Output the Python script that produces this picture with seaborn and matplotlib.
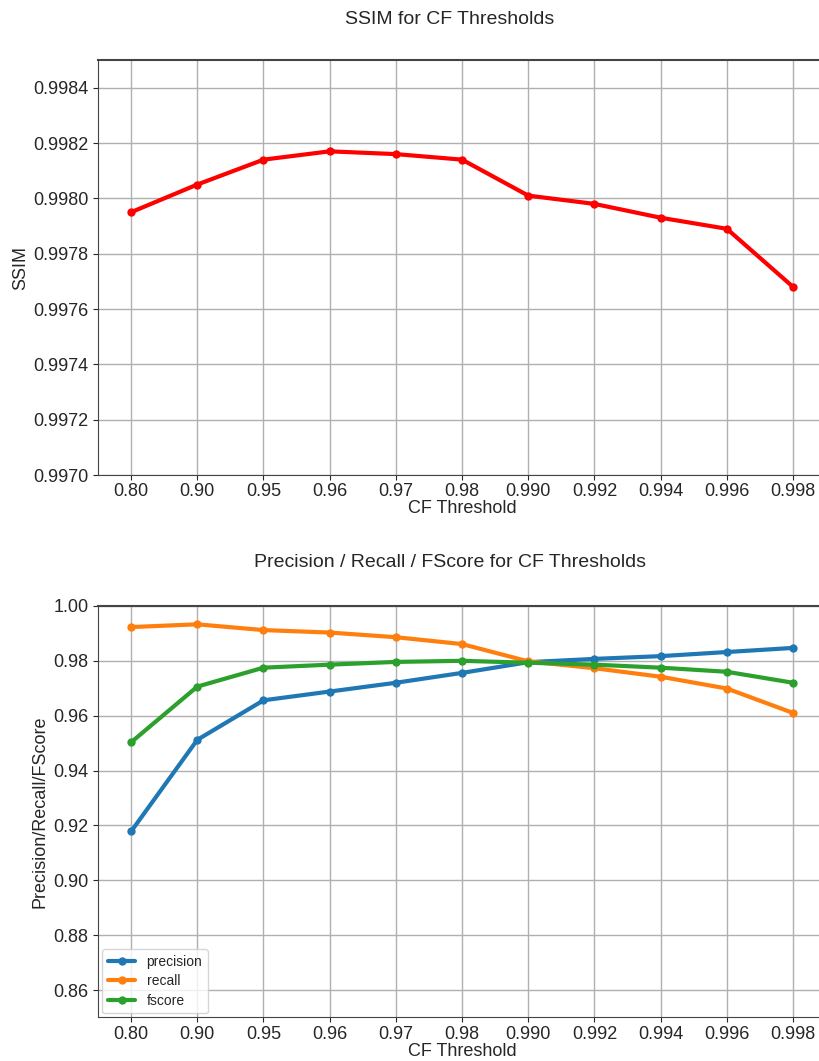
"""
SSIM and Precision / Recall / FScore for CF thresholds.
"""

import matplotlib

matplotlib.use("Agg")

import matplotlib.pyplot as plt
import pandas as pd
import seaborn as sns


THRESHOLDS = ["0.80", "0.90", "0.95", "0.96", "0.97", "0.98",
              "0.990", "0.992", "0.994", "0.996", "0.998"]

SSIM = [0.99795, 0.99805, 0.99814, 0.99817, 0.99816, 0.99814,
        0.99801, 0.99798, 0.99793, 0.99789, 0.99768]

PRECISION = [0.9178, 0.9512, 0.9656, 0.9688, 0.9720, 0.9756,
             0.9795, 0.9807, 0.9817, 0.9832, 0.9847]
RECALL = [0.9923, 0.9933, 0.9912, 0.9903, 0.9886, 0.9861,
          0.9798, 0.9773, 0.9742, 0.9699, 0.9610]
FSCORE = [0.9503, 0.9706, 0.9775, 0.9786, 0.9796, 0.9800,
          0.9793, 0.9786, 0.9775, 0.9760, 0.9720]


def style_axes(ax, title, ylabel, pad):
    ax.set_title(title, fontsize=14, pad=pad, x=0.4835)
    ax.set_xlabel("CF Threshold", fontsize=13, labelpad=0)
    ax.set_ylabel(ylabel, fontsize=13, labelpad=3)
    ax.set_xlim(-0.5, len(THRESHOLDS) - 0.5)
    ax.grid(True, color="#b0b0b0", linewidth=1)
    ax.tick_params(labelsize=13)
    ax.tick_params(axis="x", pad=2.5)
    for side in ["left", "bottom", "top"]:
        ax.spines[side].set_visible(True)
        ax.spines[side].set_color("#444444")
    ax.spines["top"].set_linewidth(1.5)


def main():
    sns.set_style("ticks")
    plt.rcParams["font.family"] = ["Liberation Sans", "DejaVu Sans"]

    fig = plt.figure(figsize=(8.2, 10.61), dpi=100)

    ssim_df = pd.DataFrame({"threshold": THRESHOLDS, "ssim": SSIM})
    ax1 = fig.add_axes([0.1195, 0.5523, 0.888, 0.3911])
    sns.lineplot(data=ssim_df, x="threshold", y="ssim", ax=ax1,
                 color="red", linewidth=3, marker="o", markersize=6,
                 markeredgewidth=0, sort=False)
    ax1.set_ylim(0.9970, 0.9985)
    ax1.set_yticks([0.9970, 0.9972, 0.9974, 0.9976, 0.9978,
                    0.9980, 0.9982, 0.9984])
    ax1.set_yticklabels([f"{v:.4f}" for v in ax1.get_yticks()])
    style_axes(ax1, "SSIM for CF Thresholds", "SSIM", pad=26)

    prf_df = pd.DataFrame({
        "threshold": THRESHOLDS * 3,
        "value": PRECISION + RECALL + FSCORE,
        "metric": (["precision"] * len(THRESHOLDS)
                   + ["recall"] * len(THRESHOLDS)
                   + ["fscore"] * len(THRESHOLDS)),
    })
    ax2 = fig.add_axes([0.1195, 0.0410, 0.888, 0.3879])
    sns.lineplot(data=prf_df, x="threshold", y="value", hue="metric",
                 palette=["#1f77b4", "#ff7f0e", "#2ca02c"], ax=ax2,
                 linewidth=3, marker="o", markersize=6,
                 markeredgewidth=0, sort=False)
    ax2.set_ylim(0.85, 1.0)
    ax2.set_yticks([0.86, 0.88, 0.90, 0.92, 0.94, 0.96, 0.98, 1.00])
    ax2.set_yticklabels([f"{v:.2f}" for v in ax2.get_yticks()])
    style_axes(ax2, "Precision / Recall / FScore for CF Thresholds",
               "Precision/Recall/FScore", pad=28)
    ax2.legend(loc="lower left", fontsize=10, frameon=True,
               edgecolor="#cccccc", handlelength=2.0, borderaxespad=0.3,
               labelspacing=0.4)

    fig.savefig("out.png", dpi=100)
    plt.close(fig)


if __name__ == "__main__":
    main()
